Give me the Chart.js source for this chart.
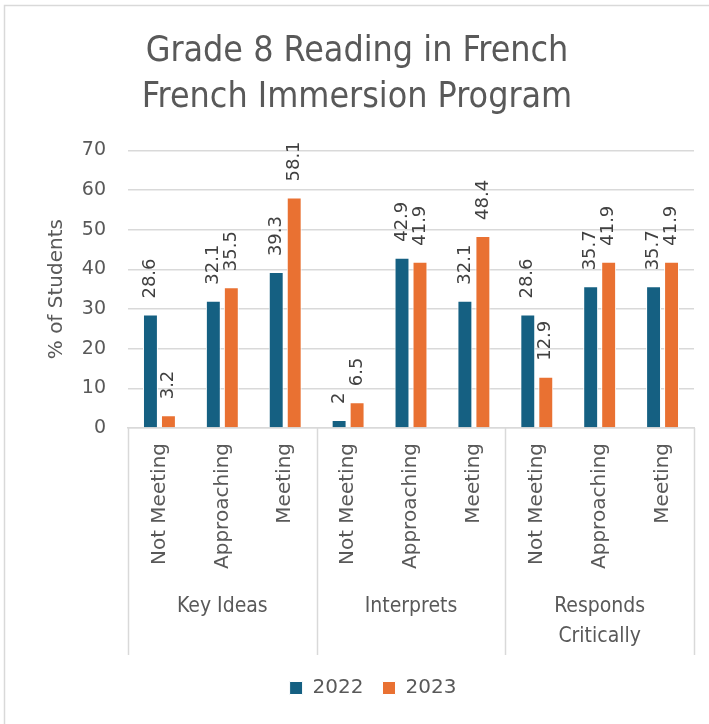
<!DOCTYPE html>
<html>
<head>
<meta charset="utf-8">
<script src="https://cdn.jsdelivr.net/npm/chart.js@4/dist/chart.umd.min.js"></script>
<style>
  html, body { margin: 0; padding: 0; background: #ffffff; }
  #wrap { position: relative; width: 709px; height: 724px; }
</style>
</head>
<body>
<div id="wrap"><canvas id="c" width="709" height="724"></canvas></div>
<script>
// ---- data ----
const groups = ["Key Ideas", "Interprets", "Responds Critically"];
const levels = ["Not Meeting", "Approaching", "Meeting"];
const categories = [
  "Not Meeting", "Approaching", "Meeting",
  "Not Meeting", "Approaching", "Meeting",
  "Not Meeting", "Approaching", "Meeting"
];
const values2022 = [28.6, 32.1, 39.3, 2, 42.9, 32.1, 28.6, 35.7, 35.7];
const values2023 = [3.2, 35.5, 58.1, 6.5, 41.9, 48.4, 12.9, 41.9, 41.9];
const seriesNames = ["2022", "2023"];
const titleLines = ["Grade 8 Reading in French", "French Immersion Program"];
const yTitle = "% of Students";

const TXT = '#595959';
const GRID = '#d9d9d9';
const BLUE = '#156082';
const ORANGE = '#E97132';
const SANS = "'DejaVu Sans', 'Liberation Sans', sans-serif";
const COND = "'DejaVu Sans Condensed', 'Liberation Sans Narrow', 'Roboto', sans-serif";

const frame = {
  id: 'frame',
  beforeDraw(chart) {
    const ctx = chart.ctx;
    ctx.save();
    ctx.fillStyle = '#ffffff';
    ctx.fillRect(0, 0, chart.width, chart.height);
    ctx.strokeStyle = GRID;
    ctx.lineWidth = 1.5;
    ctx.strokeRect(4.5, 5.5, 720, 740);
    ctx.restore();
  }
};

const legendShift = {
  id: 'legendShift',
  afterLayout(chart) {
    if (chart.legend) { chart.legend.left += 16; chart.legend.right += 16; }
  }
};

const dataLabels = {
  id: 'dataLabels',
  afterDatasetsDraw(chart) {
    const ctx = chart.ctx;
    ctx.save();
    ctx.font = "18px " + SANS;
    ctx.fillStyle = '#404040';
    ctx.textAlign = 'left';
    ctx.textBaseline = 'middle';
    chart.data.datasets.forEach((ds, di) => {
      const meta = chart.getDatasetMeta(di);
      meta.data.forEach((bar, i) => {
        ctx.save();
        ctx.translate(bar.x, bar.y - 16);
        ctx.rotate(-Math.PI / 2);
        ctx.fillText(String(ds.data[i]), 0, 0);
        ctx.restore();
      });
    });
    ctx.restore();
  }
};

const groupAxis = {
  id: 'groupAxis',
  afterDraw(chart) {
    const ctx = chart.ctx;
    const xs = chart.scales.x;
    const area = chart.chartArea;
    const n = categories.length;
    const per = n / groups.length;
    const cw = (xs.getPixelForValue(1) - xs.getPixelForValue(0));
    const yTop = area.bottom;
    const yBot = 655;
    ctx.save();
    ctx.strokeStyle = GRID;
    ctx.lineWidth = 1.5;
    for (let g = 0; g <= groups.length; g++) {
      const x = xs.getPixelForValue(g * per) - cw / 2;
      ctx.beginPath();
      ctx.moveTo(Math.round(x) + 0.5, yTop);
      ctx.lineTo(Math.round(x) + 0.5, yBot);
      ctx.stroke();
    }
    ctx.fillStyle = TXT;
    ctx.font = "21px " + COND;
    ctx.textAlign = 'center';
    ctx.textBaseline = 'middle';
    groups.forEach((g, gi) => {
      const x0 = xs.getPixelForValue(gi * per) - cw / 2;
      const x1 = xs.getPixelForValue((gi + 1) * per - 1) + cw / 2;
      const cx = (x0 + x1) / 2;
      const words = g.split(' ');
      const lines = (ctx.measureText(g).width > (x1 - x0) - 40) ? words : [g];
      lines.forEach((ln, li) => ctx.fillText(ln, cx, 607 + li * 30));
    });
    ctx.restore();
  }
};

new Chart(document.getElementById('c'), {
  type: 'bar',
  data: {
    labels: categories,
    datasets: [
      { label: seriesNames[0], data: values2022, backgroundColor: BLUE, borderColor: '#ffffff', borderWidth: 1,
        categoryPercentage: 0.572, barPercentage: 0.83 },
      { label: seriesNames[1], data: values2023, backgroundColor: ORANGE, borderColor: '#ffffff', borderWidth: 1,
        categoryPercentage: 0.572, barPercentage: 0.83 }
    ]
  },
  options: {
    responsive: false,
    animation: false,
    devicePixelRatio: 1,
    layout: { padding: { left: 20, right: 15, top: 10, bottom: 16 } },
    plugins: {
      title: {
        display: true,
        text: titleLines,
        color: TXT,
        font: { family: COND, size: 35.5, weight: 'normal', lineHeight: 1.3 },
        padding: { top: 19, bottom: 29 }
      },
      legend: {
        display: true,
        position: 'bottom',
        labels: {
          color: TXT,
          font: { family: SANS, size: 20 },
          boxWidth: 13,
          boxHeight: 13,
          padding: 19
        }
      },
      tooltip: { enabled: false }
    },
    scales: {
      x: {
        grid: { display: false, drawTicks: false },
        border: { display: true, color: GRID, width: 1.5 },
        ticks: {
          color: TXT,
          font: { family: SANS, size: 20 },
          minRotation: 90,
          maxRotation: 90,
          autoSkip: false,
          padding: 15
        },
        afterFit(scale) { scale.height = 231; }
      },
      y: {
        min: 0,
        max: 70,
        ticks: {
          stepSize: 10,
          color: TXT,
          font: { family: SANS, size: 19 },
          padding: 22
        },
        grid: { color: GRID, lineWidth: 1.5, drawTicks: false },
        border: { display: false },
        title: {
          display: true,
          text: yTitle,
          color: TXT,
          font: { family: SANS, size: 20 },
          padding: { top: 25, bottom: 0 }
        },
        afterFit(scale) { scale.width = 108; }
      }
    }
  },
  plugins: [frame, legendShift, dataLabels, groupAxis]
});
</script>
</body>
</html>
